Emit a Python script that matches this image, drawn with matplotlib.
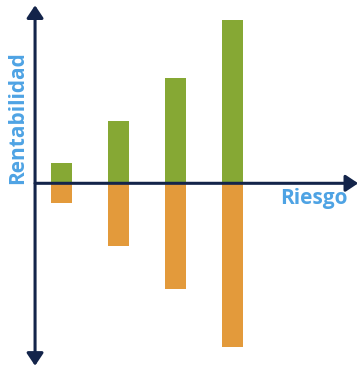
import matplotlib
matplotlib.use("Agg")
import matplotlib.pyplot as plt
import numpy as np

# rentabilidad positiva / negativa por nivel de riesgo
niveles = [1, 2, 3, 4]
ganancia = [2.0, 6.2, 10.5, 16.3]
perdida = [-2.0, -6.3, -10.6, -16.4]

verde = "#86a834"
naranja = "#e39a3b"
azul = "#4ea3e4"
marino = "#13244a"

plt.rcParams['font.family'] = ['Open Sans', 'DejaVu Sans']

fig = plt.figure(figsize=(3.59, 3.67), dpi=100)
ax = fig.add_axes([0, 0, 1, 1])

x = np.arange(len(niveles))
ax.bar(x, ganancia, width=0.376, color=verde, zorder=1)
ax.bar(x, perdida, width=0.376, color=naranja, zorder=1)

ax.set_xlim(-1.074, 5.214)
ax.set_ylim(-18.37, 18.33)
ax.axis('off')

x0 = -0.46
# eje vertical con dos flechas
ax.annotate('', xy=(x0, 17.8), xytext=(x0, -18.25),
            arrowprops=dict(arrowstyle='<|-|>,head_length=0.75,head_width=0.5',
                            color=marino, lw=2.2, shrinkA=0, shrinkB=0),
            zorder=3)
# eje horizontal
ax.annotate('', xy=(5.20, 0), xytext=(x0, 0),
            arrowprops=dict(arrowstyle='-|>,head_length=0.75,head_width=0.5',
                            color=marino, lw=2.2, shrinkA=0, shrinkB=0),
            zorder=3)

ax.text(-0.77, 6.6, 'Rentabilidad', rotation=90, color=azul,
        fontsize=15, fontweight='bold', ha='center', va='center')
ax.text(4.43, -1.5, 'Riesgo', color=azul, fontsize=15,
        fontweight='bold', ha='center', va='center')

fig.savefig('out.png', dpi=100)
